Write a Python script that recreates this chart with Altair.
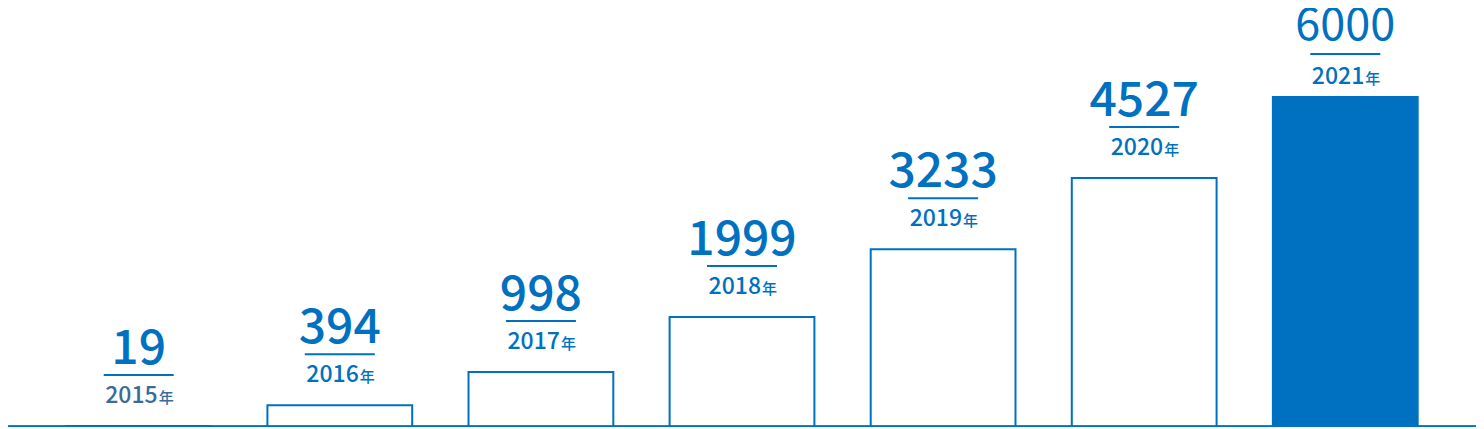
import altair as alt
import pandas as pd

years = ["2015", "2016", "2017", "2018", "2019", "2020", "2021"]
values = [19, 394, 998, 1999, 3233, 4527, 6000]
unit = "年"

BLUE = "#0070C0"
FONT = "Noto Sans CJK JP"

df = pd.DataFrame({"year": years, "value": values, "unit": [unit] * len(years)})

x = alt.X("year:N", axis=None,
          scale=alt.Scale(paddingInner=0.28, paddingOuter=0.29))
y = alt.Y("value:Q", axis=None, scale=alt.Scale(domain=[0, 7618], nice=False, zero=True))

base = alt.Chart(df).encode(x=x, y=y)

last = "datum.year == '2021'"
notlast = "datum.year != '2021'"

bars = base.mark_bar(stroke=BLUE, strokeWidth=2).encode(
    fill=alt.condition(last, alt.value(BLUE), alt.value("white"))
)

def labels(flt, d_num, d_line, d_year, weight, size):
    b = base.transform_filter(flt)
    num = b.mark_text(font=FONT, fontSize=size, fontWeight=weight, color=BLUE,
                      baseline="alphabetic", align="center", dy=d_num).encode(text="value:Q")
    line = b.mark_tick(size=70, thickness=2, color=BLUE, yOffset=d_line, opacity=1)
    ycolor = alt.condition("datum.year == '2015'", alt.value("#3a6b99"), alt.value(BLUE))
    yr = b.mark_text(font=FONT, fontSize=23, fontWeight=500, baseline="alphabetic",
                     align="right", dx=19, dy=d_year).encode(text="year:N", color=ycolor)
    un = b.mark_text(font=FONT, fontSize=15, fontWeight=500, baseline="alphabetic",
                     align="left", dx=20, dy=d_year).encode(text="unit:N", color=ycolor)
    return [num, line, yr, un]

baseline = alt.Chart(df).mark_rule(color=BLUE, strokeWidth=2.5).encode(
    x=alt.value(0), x2=alt.value(1468), y=alt.value(419)
)

chart = alt.layer(
    bars,
    *labels(notlast, -62, -51, -23, 500, 48),
    *labels(last, -57, -43, -13, 400, 45),
    baseline,
).properties(
    width=1468, height=419, padding=0,
    autosize=alt.AutoSizeParams(type="none"),
).configure_view(stroke=None)

chart.save("out.html", embed_options={"renderer": "svg", "actions": False})
